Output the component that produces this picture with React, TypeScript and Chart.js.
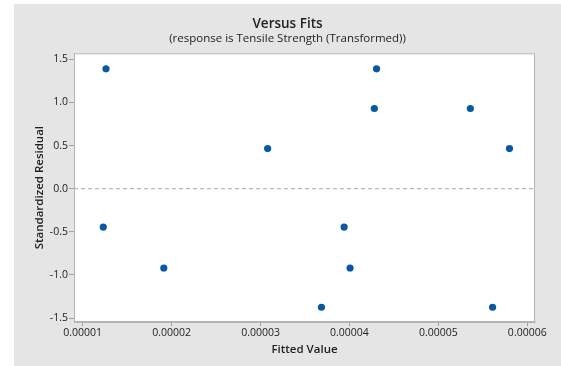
import React, { useEffect, useRef } from "react";
import { Chart, registerables } from "chart.js";

Chart.register(...registerables);

const fittedValues = [
  1.262e-5, 1.231e-5, 1.912e-5, 3.08e-5, 3.685e-5, 3.94e-5,
  4.007e-5, 4.28e-5, 4.305e-5, 5.36e-5, 5.61e-5, 5.8e-5,
];
const residuals = [
  1.39, -0.445, -0.92, 0.465, -1.375, -0.445,
  -0.92, 0.93, 1.39, 0.93, -1.375, 0.465,
];
const xTickValues = [1e-5, 2e-5, 3e-5, 4e-5, 5e-5, 6e-5];
const yTickValues = [-1.5, -1.0, -0.5, 0.0, 0.5, 1.0, 1.5];
const xRange = [0.902e-5, 6.087e-5];
const yRange = [-1.546, 1.57];

const FONT = "'Open Sans', 'Noto Sans', sans-serif";

const bgPlugin = {
  id: "bgPlugin",
  beforeDraw(chart: any) {
    const { ctx, width, height, chartArea } = chart;
    ctx.save();
    ctx.fillStyle = "#ffffff";
    ctx.fillRect(0, 0, width, height);
    ctx.fillStyle = "#e5e5e5";
    ctx.fillRect(14, 4, width - 14, height - 4);
    ctx.fillStyle = "#ffffff";
    ctx.fillRect(chartArea.left, chartArea.top, chartArea.right - chartArea.left, chartArea.bottom - chartArea.top);
    ctx.restore();
  },
  afterDraw(chart: any) {
    const { ctx, chartArea } = chart;
    ctx.save();
    ctx.strokeStyle = "#b4b4b4";
    ctx.lineWidth = 1;
    ctx.strokeRect(chartArea.left + 0.5, chartArea.top + 0.5, chartArea.right - chartArea.left - 1, chartArea.bottom - chartArea.top - 1);
    ctx.restore();
  },
};

export default function App() {
  const ref = useRef<HTMLCanvasElement>(null);
  useEffect(() => {
    if (!ref.current) return;
    const chart = new Chart(ref.current, {
      type: "scatter",
      data: {
        datasets: [
          {
            type: "line",
            data: [
              { x: xRange[0], y: 0 },
              { x: xRange[1], y: 0 },
            ],
            borderColor: "#a8a8a8",
            borderWidth: 1,
            borderDash: [4, 3],
            pointRadius: 0,
            fill: false,
          } as any,
          {
            data: fittedValues.map((x, i) => ({ x, y: residuals[i] })),
            backgroundColor: "#0a57a4",
            borderColor: "#0a57a4",
            pointRadius: 3.6,
            pointBorderWidth: 0,
          },
        ],
      },
      options: {
        animation: false,
        responsive: false,
        layout: { padding: { left: 14, right: 0, top: 0, bottom: 0 } },
        plugins: {
          legend: { display: false },
          tooltip: { enabled: false },
          title: {
            display: true,
            text: "Versus Fits",
            color: "#222",
            font: { family: FONT, size: 13.5, weight: "600", lineHeight: 1 },
            padding: { top: 17.3, bottom: 0 },
          },
          subtitle: {
            display: true,
            text: "(response is Tensile Strength (Transformed))",
            color: "#222",
            font: { family: FONT, size: 11.5, weight: "normal", lineHeight: 1.2 },
            padding: { top: 1, bottom: 7.7 },
          },
        },
        scales: {
          x: {
            type: "linear",
            min: xRange[0],
            max: xRange[1],
            afterFit(scale: any) {
              scale.height = 44;
            },
            afterBuildTicks(scale: any) {
              scale.ticks = xTickValues.map((v) => ({ value: v }));
            },
            ticks: {
              color: "#222",
              font: { family: FONT, size: 10.5 },
              padding: 1,
              maxRotation: 0,
              autoSkip: false,
              callback: (v: any) => Number(v).toFixed(5),
            },
            grid: { drawOnChartArea: false, drawTicks: true, tickLength: 4, color: "#a0a0a0" },
            border: { color: "#b4b4b4" },
            title: {
              display: true,
              text: "Fitted Value",
              color: "#222",
              font: { family: FONT, size: 11.5, weight: "600" },
              padding: { top: 0, bottom: 9.5 },
            },
          },
          y: {
            type: "linear",
            position: "left",
            min: yRange[0],
            max: yRange[1],
            afterFit(scale: any) {
              scale.width = 60;
            },
            afterBuildTicks(scale: any) {
              scale.ticks = yTickValues.map((v) => ({ value: v }));
            },
            ticks: {
              color: "#222",
              font: { family: FONT, size: 10.5 },
              padding: 1,
              autoSkip: false,
              callback: (v: any) => Number(v).toFixed(1),
            },
            grid: { drawOnChartArea: false, drawTicks: true, tickLength: 5, color: "#a0a0a0" },
            border: { color: "#b4b4b4" },
            title: {
              display: true,
              text: "Standardized Residual",
              color: "#222",
              font: { family: FONT, size: 11.5, weight: "600" },
              padding: { top: 19, bottom: 0 },
            },
          },
          yRight: {
            type: "linear",
            position: "right",
            display: true,
            min: yRange[0],
            max: yRange[1],
            afterFit(scale: any) {
              scale.width = 26;
            },
            ticks: { display: false },
            grid: { display: false, drawTicks: false },
            border: { display: false },
          },
        },
      },
      plugins: [bgPlugin],
    });
    return () => chart.destroy();
  }, []);
  return (
    <div style={{ position: "fixed", left: 0, top: 0, width: 561, height: 366 }}>
      <canvas ref={ref} width={561} height={366} style={{ display: "block" }} />
    </div>
  );
}
